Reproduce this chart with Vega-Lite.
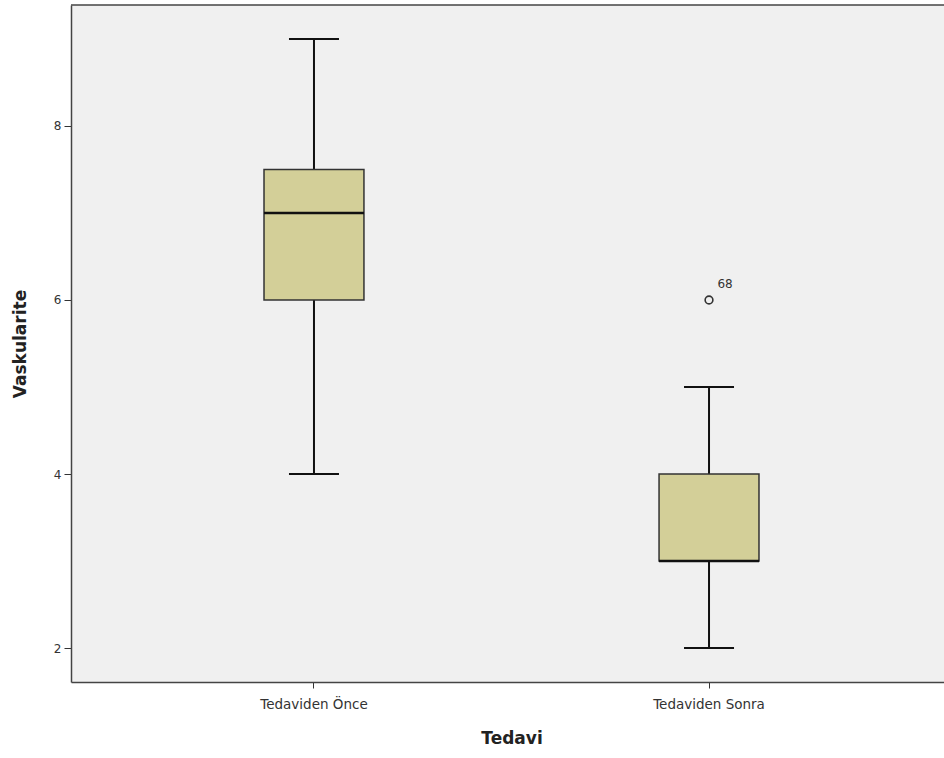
{
  "$schema": "https://vega.github.io/schema/vega-lite/v6.json",
  "autosize": "none",
  "width": 881,
  "height": 677,
  "padding": {"left": 71, "top": 5, "right": 0, "bottom": 76},
  "background": "white",
  "config": {
    "view": {"fill": "#f0f0f0", "stroke": null},
    "axis": {"domain": true, "domainColor": "#444444", "domainWidth": 1.5, "grid": false}
  },
  "datasets": {
    "boxes": [
      {"Tedavi": "Tedaviden Önce", "lower": 4, "q1": 6, "median": 7, "q3": 7.5, "upper": 9},
      {"Tedavi": "Tedaviden Sonra", "lower": 2, "q1": 3, "median": 3, "q3": 4, "upper": 5}
    ],
    "outliers": [
      {"Tedavi": "Tedaviden Sonra", "value": 6, "label": "68"}
    ],
    "frame": [
      {"top": 9.39}
    ]
  },
  "encoding": {
    "x": {
      "field": "Tedavi",
      "type": "nominal",
      "sort": ["Tedaviden Önce", "Tedaviden Sonra"],
      "scale": {"type": "band", "paddingInner": 0.747, "paddingOuter": 0.4886},
      "axis": {
        "title": "Tedavi",
        "labelAngle": 0,
        "labelFont": "DejaVu Sans",
        "labelFontSize": 13.5,
        "labelColor": "#333333",
        "labelPadding": 9,
        "tickSize": 6,
        "tickColor": "#333333",
        "titleFont": "DejaVu Sans",
        "titleFontSize": 17,
        "titleFontWeight": "bold",
        "titleColor": "#222222",
        "titlePadding": 20
      }
    }
  },
  "layer": [
    {
      "data": {"name": "boxes"},
      "mark": {"type": "rule", "color": "#111111", "strokeWidth": 2},
      "encoding": {
        "y": {
          "field": "lower",
          "type": "quantitative",
          "scale": {"domain": [1.61, 9.39], "nice": false, "zero": false},
          "axis": {
            "title": "Vaskularite",
            "values": [2, 4, 6, 8],
            "format": "d",
            "labelFont": "DejaVu Sans",
            "labelFontSize": 12,
            "labelColor": "#333333",
            "labelPadding": 3,
            "tickSize": 7,
            "tickColor": "#333333",
            "titleFont": "DejaVu Sans",
            "titleFontSize": 17,
            "titleFontWeight": "bold",
            "titleColor": "#222222",
            "titlePadding": 24
          }
        },
        "y2": {"field": "upper"}
      }
    },
    {
      "data": {"name": "frame"},
      "mark": {"type": "rule", "color": "#444444", "strokeWidth": 1.5},
      "encoding": {
        "x": {"value": 0},
        "x2": {"value": "width"},
        "y": {"field": "top", "type": "quantitative"}
      }
    },
    {
      "data": {"name": "boxes"},
      "mark": {"type": "tick", "color": "#111111", "opacity": 1, "size": 50, "thickness": 2, "orient": "horizontal"},
      "encoding": {"y": {"field": "lower", "type": "quantitative"}}
    },
    {
      "data": {"name": "boxes"},
      "mark": {"type": "tick", "color": "#111111", "opacity": 1, "size": 50, "thickness": 2, "orient": "horizontal"},
      "encoding": {"y": {"field": "upper", "type": "quantitative"}}
    },
    {
      "data": {"name": "boxes"},
      "mark": {"type": "bar", "fill": "#d3cf98", "stroke": "#333333", "strokeWidth": 1.5, "opacity": 1},
      "encoding": {
        "y": {"field": "q1", "type": "quantitative"},
        "y2": {"field": "q3"}
      }
    },
    {
      "data": {"name": "boxes"},
      "mark": {"type": "tick", "color": "#111111", "opacity": 1, "size": 100, "thickness": 2.5, "orient": "horizontal"},
      "encoding": {"y": {"field": "median", "type": "quantitative"}}
    },
    {
      "data": {"name": "outliers"},
      "mark": {"type": "point", "shape": "circle", "filled": false, "stroke": "#333333", "opacity": 1, "strokeWidth": 1.6, "size": 60},
      "encoding": {"y": {"field": "value", "type": "quantitative"}}
    },
    {
      "data": {"name": "outliers"},
      "mark": {"type": "text", "dx": 16, "dy": -16, "font": "DejaVu Sans", "fontSize": 12, "color": "#333333"},
      "encoding": {
        "y": {"field": "value", "type": "quantitative"},
        "text": {"field": "label"}
      }
    }
  ]
}
